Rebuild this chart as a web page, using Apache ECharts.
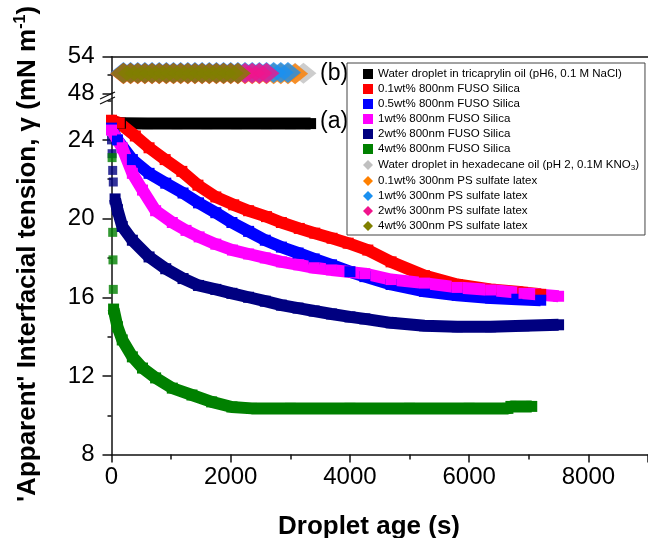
<!DOCTYPE html>
<html>
<head>
<meta charset="utf-8">
<script src="https://cdn.jsdelivr.net/npm/echarts@6/dist/echarts.min.js"></script>
<style>
  html, body { margin: 0; padding: 0; background: #fff; }
  #chart { width: 648px; height: 538px; }
</style>
</head>
<body>
<div id="chart"></div>
<script>
// droplet age (s) / apparent tension (mN m-1)

// (a) water droplet in tricaprylin oil + FUSO silica
const blackAge = [150, 600, 1100, 1600, 2100, 2600, 3000, 3340]
const blackVal = [24.85, 24.83, 24.83, 24.83, 24.83, 24.83, 24.83, 24.83]

const redAge = [0, 130, 400, 630, 900, 1180, 1450, 1750, 2050, 2300, 2600, 2850, 3150, 3410, 3700, 3970, 4300, 4690, 5250, 5800, 6360, 6900, 7200]
const redVal = [25.0, 24.86, 24.2, 23.6, 23.0, 22.4, 21.7, 21.1, 20.7, 20.4, 20.1, 19.8, 19.5, 19.26, 19.0, 18.75, 18.4, 17.8, 17.1, 16.65, 16.4, 16.25, 16.15]

const blueAge = [0, 100, 350, 630, 910, 1200, 1460, 1750, 2020, 2300, 2580, 2850, 3130, 3400, 3690, 4000, 4250, 4690, 5250, 5800, 6360, 6800, 7200]
const blueVal = [24.6, 24.0, 23.0, 22.3, 21.8, 21.3, 20.8, 20.3, 19.8, 19.35, 18.9, 18.55, 18.25, 17.95, 17.65, 17.3, 17.05, 16.65, 16.3, 16.1, 15.96, 15.9, 15.85]

const pinkAge = [0, 180, 350, 520, 740, 1020, 1250, 1470, 1750, 2030, 2300, 2580, 2850, 3140, 3400, 3690, 4250, 4690, 5250, 5800, 6360, 6920, 7500]
const pinkVal = [24.5, 23.6, 22.3, 21.45, 20.4, 19.8, 19.4, 19.07, 18.7, 18.4, 18.2, 18.0, 17.8, 17.65, 17.5, 17.39, 17.2, 16.9, 16.72, 16.5, 16.37, 16.2, 16.05]

const navyEarlyAge = [0, 10, 20, 30]
const navyEarlyVal = [24.0, 23.3, 22.45, 21.86]
const navyAge = [60, 100, 180, 350, 630, 910, 1200, 1460, 1750, 2020, 2300, 2580, 2850, 3130, 3400, 3690, 4000, 4250, 4690, 5250, 5800, 6360, 6920, 7500]
const navyVal = [21.0, 20.45, 19.6, 18.9, 18.05, 17.45, 16.95, 16.6, 16.4, 16.2, 16.0, 15.8, 15.6, 15.45, 15.3, 15.15, 15.0, 14.9, 14.7, 14.55, 14.5, 14.5, 14.55, 14.6]

const greenEarlyAge = [0, 10, 20, 25, 30]
const greenEarlyVal = [24.6, 23.1, 19.3, 17.9, 16.4]
const greenAge = [35, 100, 180, 350, 520, 740, 1020, 1350, 1680, 2020, 2350, 3000, 4000, 5000, 6000, 6650, 6700, 7050]
const greenVal = [15.4, 14.5, 13.83, 12.97, 12.4, 11.9, 11.38, 11.03, 10.68, 10.42, 10.35, 10.35, 10.35, 10.35, 10.35, 10.35, 10.45, 10.45]

// (b) water droplet in hexadecane oil + PS sulfate latex
const topAge = [200, 320, 440, 560, 680, 800, 920, 1040, 1160, 1280, 1400, 1520, 1640, 1760, 1880, 2000, 2120, 2240, 2360, 2480, 2600, 2720, 2840, 2960, 3080, 3220]
const grayVal = [51.3, 51.3, 51.3, 51.3, 51.3, 51.3, 51.3, 51.3, 51.3, 51.3, 51.3, 51.3, 51.3, 51.3, 51.3, 51.3, 51.3, 51.3, 51.3, 51.3, 51.3, 51.3, 51.3, 51.3, 51.3, 51.3]
const orangeVal = [51.2, 51.2, 51.2, 51.2, 51.2, 51.2, 51.2, 51.2, 51.2, 51.2, 51.2, 51.2, 51.2, 51.2, 51.2, 51.2, 51.2, 51.2, 51.2, 51.2, 51.2, 51.2, 51.2, 51.2, 51.2]
const azureVal = [51.4, 51.4, 51.4, 51.4, 51.4, 51.4, 51.4, 51.4, 51.4, 51.4, 51.4, 51.4, 51.4, 51.4, 51.4, 51.4, 51.4, 51.4, 51.4, 51.4, 51.4, 51.4, 51.4, 51.4]
const roseVal = [51.3, 51.3, 51.3, 51.3, 51.3, 51.3, 51.3, 51.3, 51.3, 51.3, 51.3, 51.3, 51.3, 51.3, 51.3, 51.3, 51.3, 51.3, 51.3, 51.3, 51.3]
const oliveVal = [51.3, 51.3, 51.3, 51.3, 51.3, 51.3, 51.3, 51.3, 51.3, 51.3, 51.3, 51.3, 51.3, 51.3, 51.3, 51.3, 51.3]

const yTicksTop = [48, 54]
const names = [
  'Water droplet in tricaprylin oil (pH6, 0.1 M NaCl)',
  '0.1wt% 800nm FUSO Silica',
  '0.5wt% 800nm FUSO Silica',
  '1wt% 800nm FUSO Silica',
  '2wt% 800nm FUSO Silica',
  '4wt% 800nm FUSO Silica',
  'Water droplet in hexadecane oil (pH 2, 0.1M KNO3)',
  '0.1wt% 300nm PS sulfate latex',
  '1wt% 300nm PS sulfate latex',
  '2wt% 300nm PS sulfate latex',
  '4wt% 300nm PS sulfate latex'
]
const colors = ['#000000', '#ff0000', '#0000ff', '#ff00ff', '#000080', '#008000',
  '#c0c0c0', '#ff8000', '#1a90f0', '#f0148c', '#808000']

const FONT = 'Liberation Sans, Arial, sans-serif'
const zip = (a, b) => a.map((t, i) => [t, b[i]])

function band(i, age, val) {
  return {
    type: 'line', name: names[i], xAxisIndex: 1, yAxisIndex: 1,
    data: zip(age, val),
    symbol: 'rect', symbolSize: 11, showAllSymbol: true,
    itemStyle: {color: colors[i]},
    lineStyle: {color: colors[i], width: 12},
    emphasis: {disabled: true}
  }
}
function early(i, age, val) {
  return {
    type: 'scatter', name: names[i], xAxisIndex: 1, yAxisIndex: 1,
    data: zip(age, val),
    symbol: 'rect', symbolSize: 9,
    itemStyle: {color: colors[i]},
    emphasis: {disabled: true}
  }
}
function diamonds(i, val) {
  return {
    type: 'scatter', name: names[i], xAxisIndex: 0, yAxisIndex: 0,
    data: zip(topAge.slice(0, val.length), val),
    symbol: 'diamond', symbolSize: [26, 21],
    itemStyle: {color: colors[i]},
    emphasis: {disabled: true}
  }
}

const axisLine = {show: true, lineStyle: {color: '#111', width: 1.5}}
const tickLabel = {color: '#000', fontSize: 24, fontFamily: FONT, formatter: v => String(v)}

const chart = echarts.init(document.getElementById('chart'))
chart.setOption({
  animation: false,
  backgroundColor: '#fff',
  grid: [
    {left: 111.5, width: 539, top: 56.7, height: 36.6},
    {left: 111.5, width: 539, top: 93.3, height: 361.3}
  ],
  xAxis: [
    {gridIndex: 0, type: 'value', min: 0, max: 9000, position: 'top',
      axisLine: axisLine, axisTick: {show: false}, axisLabel: {show: false}, splitLine: {show: false}},
    {gridIndex: 1, type: 'value', min: 0, max: 9000, interval: 2000,
      axisLine: axisLine,
      axisTick: {length: 8, lineStyle: {color: '#111', width: 1.5}},
      minorTick: {show: true, splitNumber: 2, length: 5, lineStyle: {color: '#111', width: 1.5}},
      axisLabel: Object.assign({margin: 11, showMaxLabel: false}, tickLabel),
      splitLine: {show: false}}
  ],
  yAxis: [
    {gridIndex: 0, type: 'value', min: yTicksTop[0], max: yTicksTop[1], interval: 6,
      axisLine: axisLine,
      axisTick: {length: 9, lineStyle: {color: '#111', width: 1.5}},
      minorTick: {show: true, splitNumber: 2, length: 4, lineStyle: {color: '#111', width: 1.5}},
      axisLabel: Object.assign({margin: 17}, tickLabel),
      splitLine: {show: false}},
    {gridIndex: 1, type: 'value', min: 8, max: 26.37, interval: 4,
      axisLine: axisLine,
      axisTick: {length: 9, lineStyle: {color: '#111', width: 1.5}},
      minorTick: {show: true, splitNumber: 2, length: 4, lineStyle: {color: '#111', width: 1.5}},
      axisLabel: Object.assign({margin: 17, showMaxLabel: false}, tickLabel),
      splitLine: {show: false}}
  ],
  legend: {
    orient: 'vertical', left: 347, top: 63,
    padding: [5, 6, 3, 16], itemGap: 3, itemWidth: 10, itemHeight: 10,
    borderColor: '#444', borderWidth: 1, backgroundColor: '#fff',
    selectedMode: false,
    textStyle: {
      fontFamily: FONT, fontSize: 11.5, color: '#000', lineHeight: 11,
      rich: {sub: {fontFamily: FONT, fontSize: 8, color: '#000', lineHeight: 11, padding: [6, 0, 0, 0]}}
    },
    formatter: n => n === names[6] ? 'Water droplet in hexadecane oil (pH 2, 0.1M KNO{sub|3})' : n,
    data: names.map((n, i) => ({
      name: n, icon: i < 6 ? 'rect' : 'diamond',
      itemStyle: {color: colors[i], opacity: 1, borderWidth: 0}
    }))
  },
  graphic: [
    {type: 'text', x: 28, y: 254, rotation: Math.PI / 2,
      style: {
        text: "{b|'Apparent' Interfacial tension, γ (mN m}{s|-1}{b|)}",
        align: 'center', verticalAlign: 'middle',
        rich: {
          b: {fontFamily: FONT, fontSize: 26, fontWeight: 'bold', fill: '#000', lineHeight: 30},
          s: {fontFamily: FONT, fontSize: 16, fontWeight: 'bold', fill: '#000', lineHeight: 16, verticalAlign: 'top'}
        }
      }},
    {type: 'text', x: 369, y: 527,
      style: {text: 'Droplet age (s)', font: 'bold 26px ' + FONT, fill: '#000', align: 'center', verticalAlign: 'middle'}},
    {type: 'text', x: 320, y: 74,
      style: {text: '(b)', font: '23px ' + FONT, fill: '#000', align: 'left', verticalAlign: 'middle'}},
    {type: 'text', x: 320, y: 122,
      style: {text: '(a)', font: '23px ' + FONT, fill: '#000', align: 'left', verticalAlign: 'middle'}},
    {type: 'line', shape: {x1: 100, y1: 99, x2: 115, y2: 92}, style: {stroke: '#111', lineWidth: 1.3}},
    {type: 'line', shape: {x1: 100, y1: 104, x2: 115, y2: 97}, style: {stroke: '#111', lineWidth: 1.3}}
  ],
  series: [
    band(0, blackAge, blackVal),
    band(1, redAge, redVal),
    band(2, blueAge, blueVal),
    band(3, pinkAge, pinkVal),
    early(4, navyEarlyAge, navyEarlyVal),
    band(4, navyAge, navyVal),
    early(5, greenEarlyAge, greenEarlyVal),
    band(5, greenAge, greenVal),
    diamonds(6, grayVal),
    diamonds(7, orangeVal),
    diamonds(8, azureVal),
    diamonds(9, roseVal),
    diamonds(10, oliveVal)
  ]
})
</script>
</body>
</html>
